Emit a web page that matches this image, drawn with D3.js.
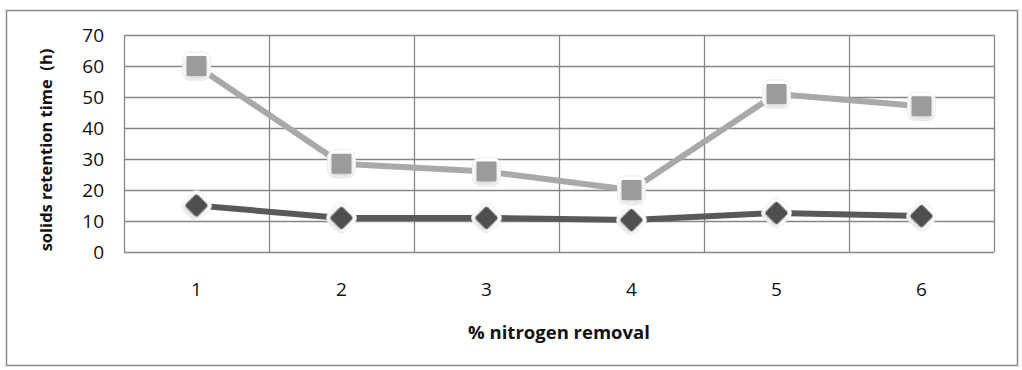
<!DOCTYPE html>
<html>
<head>
<meta charset="utf-8">
<script src="https://cdn.jsdelivr.net/npm/d3@7"></script>
<style>
  body { margin: 0; background: #fff; }
  svg { display: block; }
</style>
</head>
<body>
<div id="chart"></div>
<script>
// values
const categories = ["1", "2", "3", "4", "5", "6"];
const upperSeries = [60, 28.5, 26, 20, 51, 47];
const lowerSeries = [15, 11, 11, 10.3, 12.6, 11.6];
const yTicks = [0, 10, 20, 30, 40, 50, 60, 70];

const width = 1022, height = 370;
const plot = { left: 124, top: 35, right: 994, bottom: 252 };
const font = "'Open Sans', 'Noto Sans', sans-serif";

const svg = d3.select("#chart").append("svg")
    .attr("width", width)
    .attr("height", height)
    .style("font-family", font);

// soft glow round the markers
const defs = svg.append("defs");
const glow = defs.append("filter").attr("id", "glow")
    .attr("x", "-60%").attr("y", "-60%").attr("width", "220%").attr("height", "220%");
glow.append("feGaussianBlur").attr("in", "SourceAlpha").attr("stdDeviation", 2).attr("result", "b");
glow.append("feOffset").attr("in", "b").attr("dx", 0).attr("dy", 1.5).attr("result", "o");
glow.append("feComponentTransfer").attr("in", "o").attr("result", "s")
  .append("feFuncA").attr("type", "linear").attr("slope", 0.2);
const merge = glow.append("feMerge");
merge.append("feMergeNode").attr("in", "s");
merge.append("feMergeNode").attr("in", "SourceGraphic");

const soft = defs.append("filter").attr("id", "soft");
soft.append("feGaussianBlur").attr("stdDeviation", 0.8);

// outer frame
svg.append("rect")
    .attr("x", 6.5).attr("y", 10.5)
    .attr("width", 1011).attr("height", 355)
    .attr("fill", "none")
    .attr("stroke", "#8a8a8a")
    .attr("stroke-width", 1.5);

const x = d3.scaleBand().domain(categories).range([plot.left, plot.right]);
const y = d3.scaleLinear().domain([0, 70]).range([plot.bottom, plot.top]);

const grid = svg.append("g").attr("stroke", "#868686").attr("stroke-width", 1.3);

// horizontal gridlines
grid.selectAll("line.h")
  .data(yTicks)
  .join("line")
    .attr("class", "h")
    .attr("x1", plot.left).attr("x2", plot.right)
    .attr("y1", d => Math.round(y(d)) + 0.5)
    .attr("y2", d => Math.round(y(d)) + 0.5);

// vertical gridlines at category boundaries
grid.selectAll("line.v")
  .data(categories.concat(["end"]))
  .join("line")
    .attr("class", "v")
    .attr("x1", (d, i) => Math.round(plot.left + i * x.bandwidth()) + 0.5)
    .attr("x2", (d, i) => Math.round(plot.left + i * x.bandwidth()) + 0.5)
    .attr("y1", plot.top).attr("y2", plot.bottom);

// y tick labels
svg.append("g")
  .selectAll("text")
  .data(yTicks)
  .join("text")
    .attr("x", 104)
    .attr("y", d => y(d))
    .attr("dy", "0.36em")
    .attr("text-anchor", "end")
    .attr("font-size", 19)
    .attr("fill", "#111")
    .text(d => d);

// x tick labels
svg.append("g")
  .selectAll("text")
  .data(categories)
  .join("text")
    .attr("x", d => x(d) + x.bandwidth() / 2)
    .attr("y", 289)
    .attr("dy", "0.36em")
    .attr("text-anchor", "middle")
    .attr("font-size", 19)
    .attr("fill", "#111")
    .text(d => d);

// axis titles
svg.append("text")
    .attr("x", 559)
    .attr("y", 333)
    .attr("dy", "0.35em")
    .attr("text-anchor", "middle")
    .attr("font-size", 18.5)
    .attr("font-weight", "bold")
    .attr("fill", "#111")
    .text("% nitrogen removal");

svg.append("text")
    .attr("transform", "translate(46,150) rotate(-90)")
    .attr("dy", "0.35em")
    .attr("text-anchor", "middle")
    .attr("font-size", 16.5)
    .attr("font-weight", "bold")
    .attr("fill", "#111")
    .style("white-space", "pre")
    .text("solids retention time  (h)");

const line = d3.line()
    .x((d, i) => x(categories[i]) + x.bandwidth() / 2)
    .y(d => y(d));

function drawSeries(values, colour, markerColour, shape) {
  svg.append("path")
      .datum(values)
      .attr("fill", "none")
      .attr("stroke", colour)
      .attr("stroke-width", 6)
      .attr("stroke-linejoin", "round")
      .attr("d", line);

  const g = svg.append("g");
  const pts = g.selectAll("g")
    .data(values)
    .join("g")
      .attr("transform", (d, i) => `translate(${x(categories[i]) + x.bandwidth() / 2},${y(d)})`);

  // pale halo
  pts.append("rect")
      .attr("x", -14).attr("y", -14)
      .attr("width", 28).attr("height", 28)
      .attr("rx", 8)
      .attr("fill", "#fff")
      .attr("stroke", "#ececec")
      .attr("transform", shape === "diamond" ? "rotate(45) scale(0.9)" : null);

  pts.append("rect")
      .attr("x", shape === "diamond" ? -8.5 : -10)
      .attr("y", shape === "diamond" ? -8.5 : -10)
      .attr("width", shape === "diamond" ? 17 : 20)
      .attr("height", shape === "diamond" ? 17 : 20)
      .attr("rx", shape === "diamond" ? 2.5 : 1)
      .attr("fill", markerColour)
      .attr("filter", "url(#glow)")
      .attr("transform", shape === "diamond" ? "rotate(45)" : null);
}

drawSeries(upperSeries, "#a9a9a9", "#9b9b9b", "square");
drawSeries(lowerSeries, "#595959", "#505050", "diamond");
</script>
</body>
</html>
